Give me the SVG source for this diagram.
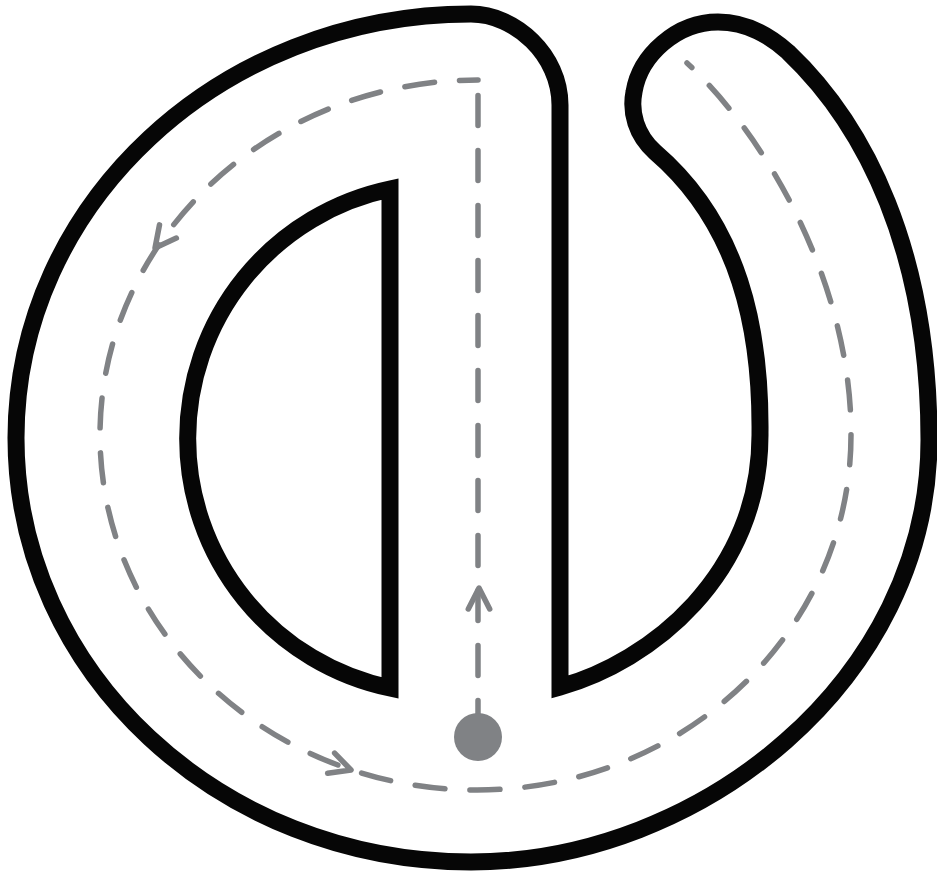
<svg xmlns="http://www.w3.org/2000/svg" width="937" height="875" viewBox="0 0 937 875">
<defs>
<style>
.outline{fill:none;stroke:#060606;stroke-width:17;stroke-linejoin:miter;stroke-miterlimit:10}
.guide{fill:none;stroke:#808285;stroke-width:5.5;stroke-linecap:round;stroke-dasharray:30 25}
.chev{fill:none;stroke:#808285;stroke-width:5.5;stroke-linecap:round;stroke-linejoin:round}
</style>
<path id="chev" d="M-21,-10.7 L0,0 L-21,10.7"/>
</defs>
<rect width="937" height="875" fill="#ffffff"/>
<g id="letter-outline">
<path class="outline" d="M471,14 C515,14 560,55 560,105 L560,687 C650,662 761,575 760,433 C761,330 740,225 655,152 C636,135 630,112 634,92 C640,55 677,22 718,22 C748,22 770,36 788,52 C865,125 929,250 929,440 C929,680 700,862 471,862 C220,862 16,672 16,438 C16,204 220,14 471,14 Z"/>
</g>
<g id="letter-counter">
<path class="outline" d="M390,189 A255,255 0 0 0 390,688 Z"/>
</g>
<g id="trace-guide">
<path class="guide" stroke-dashoffset="39.5" d="M478,80 L478,737"/>
<path class="guide" stroke-dashoffset="11.5" d="M478,80 C270,80 100,239 100,435 C100,631 269,790 477,790 C684,790 851,631 851,435 C852,300 780,150 687,63"/>
<use href="#chev" class="chev" transform="translate(479,588) rotate(-90)"/>
<use href="#chev" class="chev" transform="translate(155,248) rotate(128)"/>
<use href="#chev" class="chev" transform="translate(351,770) rotate(19)"/>
</g>
<g id="start-dot">
<circle cx="478" cy="737" r="24" fill="#808285"/>
</g>
</svg>
